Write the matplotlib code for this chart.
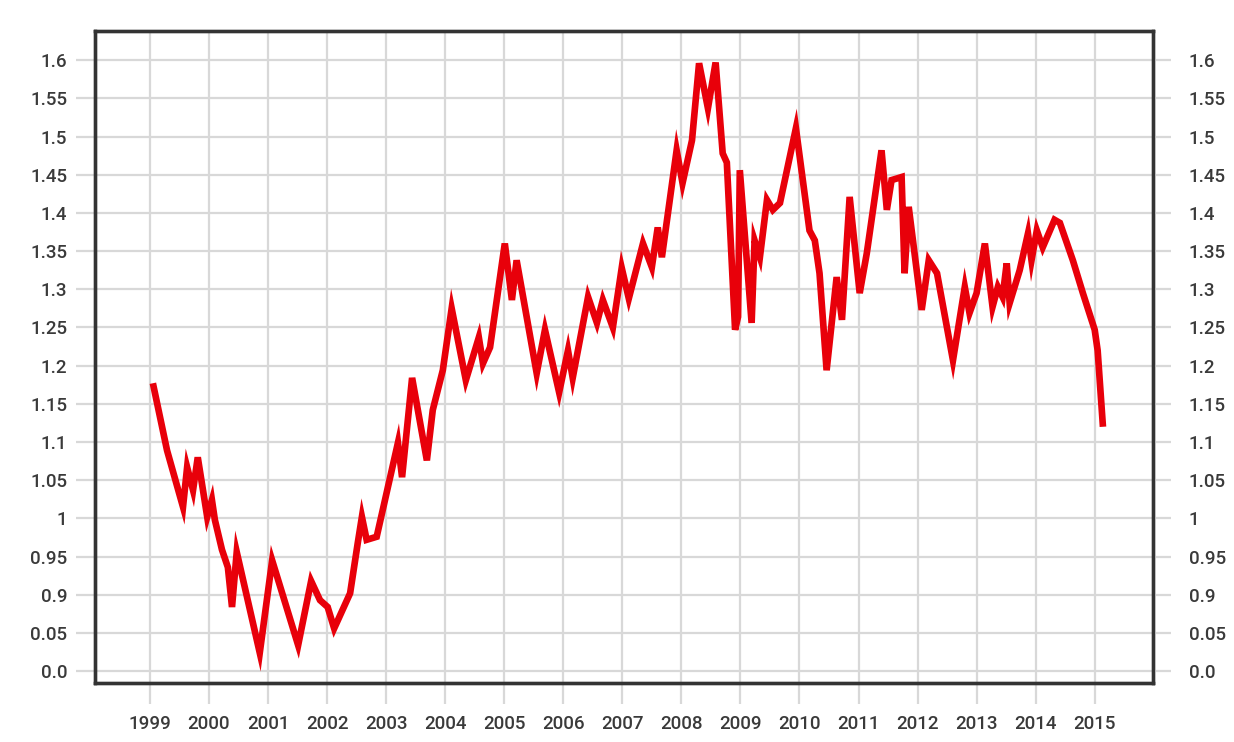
import matplotlib.pyplot as plt
import numpy as np

# EUR/USD (decimal year, rate)
years = [1999.05, 1999.29, 1999.56, 1999.63, 1999.73, 1999.81, 1999.88, 1999.97, 2000.05,
         2000.10, 2000.22, 2000.32, 2000.39, 2000.47, 2000.86, 2001.07, 2001.51,
         2001.73, 2001.88, 2002.01, 2002.12, 2002.39, 2002.52, 2002.59, 2002.67,
         2002.84, 2003.20, 2003.27, 2003.44, 2003.69, 2003.79, 2003.96, 2004.11,
         2004.35, 2004.57, 2004.64, 2004.76, 2005.01, 2005.13, 2005.21, 2005.55,
         2005.69, 2005.93, 2006.08, 2006.16, 2006.42, 2006.57, 2006.67, 2006.84,
         2006.99, 2007.11, 2007.35, 2007.50, 2007.60, 2007.67, 2007.92, 2008.02,
         2008.18, 2008.30, 2008.45, 2008.58, 2008.70, 2008.77, 2008.91, 2008.96,
         2008.99, 2009.19, 2009.24, 2009.33, 2009.45, 2009.55, 2009.67, 2009.94,
         2010.17, 2010.26, 2010.34, 2010.46, 2010.63, 2010.72, 2010.85, 2011.02,
         2011.14, 2011.39, 2011.48, 2011.56, 2011.73, 2011.78, 2011.85, 2012.07,
         2012.19, 2012.33, 2012.60, 2012.80, 2012.88, 2013.00, 2013.14, 2013.27,
         2013.36, 2013.44, 2013.51, 2013.56, 2013.73, 2013.87, 2013.93, 2014.02,
         2014.12, 2014.32, 2014.41, 2014.63, 2014.80, 2015.00, 2015.05, 2015.14]
rate = [1.177, 1.089, 1.015, 1.067, 1.037, 1.080, 1.046, 1.002, 1.024,
        0.998, 0.959, 0.936, 0.884, 0.956, 0.824, 0.945, 0.834,
        0.918, 0.893, 0.884, 0.856, 0.902, 0.968, 1.002, 0.972,
        0.976, 1.099, 1.054, 1.184, 1.076, 1.142, 1.194, 1.275,
        1.181, 1.237, 1.203, 1.224, 1.360, 1.286, 1.338, 1.190,
        1.247, 1.165, 1.220, 1.184, 1.290, 1.256, 1.286, 1.250,
        1.328, 1.288, 1.360, 1.329, 1.381, 1.342, 1.482, 1.439,
        1.495, 1.596, 1.537, 1.597, 1.478, 1.466, 1.247, 1.264,
        1.456, 1.256, 1.364, 1.342, 1.417, 1.404, 1.413, 1.511,
        1.377, 1.364, 1.321, 1.194, 1.316, 1.260, 1.421, 1.295,
        1.347, 1.482, 1.404, 1.443, 1.447, 1.321, 1.408, 1.273,
        1.338, 1.321, 1.207, 1.303, 1.269, 1.295, 1.360, 1.277,
        1.303, 1.290, 1.334, 1.282, 1.325, 1.373, 1.338, 1.377,
        1.355, 1.391, 1.387, 1.338, 1.295, 1.247, 1.220, 1.120]

year_ticks = list(range(1999, 2016))
y_ticks = [0.80, 0.85, 0.90, 0.95, 1.00, 1.05, 1.10, 1.15, 1.20, 1.25, 1.30,
           1.35, 1.40, 1.45, 1.50, 1.55, 1.60]
y_labels = ['0.0', '0.05', '0.9', '0.95', '1', '1.05', '1.1', '1.15', '1.2',
            '1.25', '1.3', '1.35', '1.4', '1.45', '1.5', '1.55', '1.6']

plt.rcParams['font.family'] = ['Roboto', 'DejaVu Sans']
plt.rcParams['font.weight'] = 'medium'

fig = plt.figure(figsize=(12.34, 7.42), dpi=100)
ax = fig.add_axes([0.077, 0.0795, 0.857, 0.8785])

ax.plot(years, rate, color='#e8000a', lw=4.8, solid_joinstyle='miter',
        solid_capstyle='butt', zorder=3)

ax.set_xlim(1998.07, 2015.98)
ax.set_ylim(0.7845, 1.638)
ax.set_xticks(year_ticks)
ax.set_xticklabels([str(y) for y in year_ticks])
ax.set_yticks(y_ticks)
ax.set_yticklabels(y_labels)

ax.grid(True, color='#d8d8d8', lw=1.6, zorder=0)
ax.tick_params(axis='x', length=15, width=1.6, color='#d8d8d8', pad=8,
               labelsize=13.5, labelcolor='#3a3a3a')
ax.tick_params(axis='y', length=14, width=1.6, color='#d8d8d8', pad=6,
               labelsize=13.5, labelcolor='#3a3a3a')

# same scale repeated on the right
ax2 = ax.twinx()
ax2.set_ylim(ax.get_ylim())
ax2.set_yticks(y_ticks)
ax2.set_yticklabels(y_labels)
ax2.tick_params(axis='y', length=13, width=1.6, color='#d8d8d8', pad=13,
                labelsize=13.5, labelcolor='#3a3a3a')

for a in (ax, ax2):
    for s in a.spines.values():
        s.set_color('#333333')
        s.set_linewidth(2.4)

plt.savefig('out.png', dpi=100)
